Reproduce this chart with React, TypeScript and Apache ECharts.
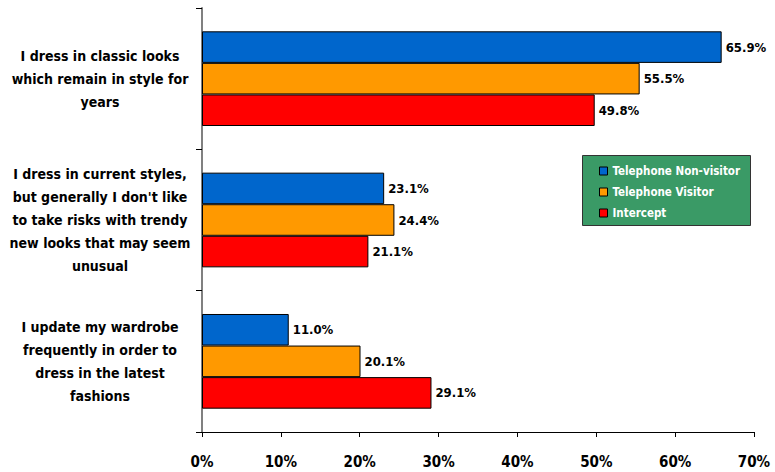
import React, { useEffect, useRef } from "react";
import * as echarts from "echarts";

const categories = [
  "I dress in classic looks\nwhich remain in style for\nyears",
  "I dress in current styles,\nbut generally I don't like\nto take risks with trendy\nnew looks that may seem\nunusual",
  "I update my wardrobe\nfrequently in order to\ndress in the latest\nfashions",
];
const seriesNames = ["Telephone Non-visitor", "Telephone Visitor", "Intercept"];
const nonVisitor = [65.9, 23.1, 11.0];
const visitor = [55.5, 24.4, 20.1];
const intercept = [49.8, 21.1, 29.1];
const xTicks = [0, 10, 20, 30, 40, 50, 60, 70];
const colors = ["#0066CC", "#FF9900", "#FF0000"];

const FONT = "'Liberation Sans Narrow', 'DejaVu Sans Condensed', 'Roboto Condensed', sans-serif";

export default function App() {
  const ref = useRef<HTMLDivElement>(null);
  useEffect(() => {
    const chart = echarts.init(ref.current!, null, { renderer: "svg" });
    const data = [nonVisitor, visitor, intercept];
    chart.setOption({
      animation: false,
      textStyle: { fontFamily: FONT },
      grid: { left: 202, right: 21, top: 8, bottom: 40, containLabel: false },
      graphic: [
        {
          type: "rect",
          left: 582,
          top: 155,
          shape: { width: 168, height: 70 },
          style: { fill: "#3A9A66", stroke: "#333333", lineWidth: 1 },
          z: 5,
        },
      ],
      legend: {
        orient: "vertical",
        left: 594,
        top: 160,
        itemWidth: 8,
        itemHeight: 8,
        itemGap: 9,
        icon: "rect",
        z: 10,
        data: seriesNames.map((n, i) => ({
          name: n,
          itemStyle: { color: colors[i], borderColor: "#000", borderWidth: 1 },
        })),
        textStyle: {
          color: "#ffffff",
          fontWeight: "bold",
          fontSize: 11.5,
          fontFamily: FONT,
          padding: [0, 0, 0, 0],
        },
      },
      xAxis: {
        type: "value",
        min: 0,
        max: 70,
        interval: 10,
        splitLine: { show: false },
        axisLine: { show: true, lineStyle: { color: "#000", width: 1 } },
        axisTick: { show: true, length: 5, lineStyle: { color: "#000" } },
        axisLabel: {
          formatter: (v: number) => (xTicks.includes(v) ? v + "%" : ""),
          color: "#000",
          fontWeight: "bold",
          fontSize: 15,
          fontFamily: FONT,
          margin: 22,
        },
      },
      yAxis: {
        type: "category",
        data: categories,
        inverse: true,
        axisLine: { show: true, lineStyle: { color: "#808080", width: 2 } },
        axisTick: { show: true, length: 6, lineStyle: { color: "#000" } },
        axisLabel: {
          align: "center",
          margin: 102,
          color: "#000",
          fontWeight: "bold",
          fontSize: 14,
          lineHeight: 23,
          fontFamily: FONT,
        },
      },
      series: seriesNames.map((n, i) => ({
        name: n,
        type: "bar",
        data: data[i],
        barGap: "0%",
        barCategoryGap: "33%",
        itemStyle: { color: colors[i], borderColor: "#000", borderWidth: 1 },
        label: {
          show: true,
          position: "right",
          distance: 4,
          formatter: (p: any) => p.value.toFixed(1) + "%",
          color: "#000",
          fontWeight: "bold",
          fontSize: 13,
          fontFamily: FONT,
        },
      })),
    });
    return () => chart.dispose();
  }, []);
  return <div ref={ref} style={{ width: 775, height: 472, position: "absolute", left: 0, top: 0 }} />;
}
